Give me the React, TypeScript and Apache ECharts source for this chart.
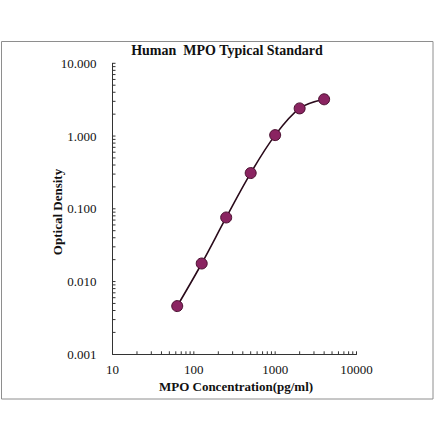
import React, { useEffect, useRef } from "react";
import * as echarts from "echarts";

const concentrations = [62.5, 125, 250, 500, 1000, 2000, 4000];
const opticalDensity = [0.0046, 0.0177, 0.076, 0.31, 1.03, 2.4, 3.2];
const xMinorTicks = [20, 30, 40, 50, 60, 70, 80, 90, 100, 200, 300, 400, 500, 600, 700, 800, 900, 1000, 2000, 3000, 4000, 5000, 6000, 7000, 8000, 9000, 10000];
const yMinorTicks = [
  0.002, 0.003, 0.004, 0.005, 0.006, 0.007, 0.008, 0.009, 0.01,
  0.02, 0.03, 0.04, 0.05, 0.06, 0.07, 0.08, 0.09, 0.1,
  0.2, 0.3, 0.4, 0.5, 0.6, 0.7, 0.8, 0.9, 1,
  2, 3, 4, 5, 6, 7, 8, 9, 10,
];
const titleText = "Human  MPO Typical Standard";
const xTitle = "MPO Concentration(pg/ml)";
const yTitle = "Optical Density";

const SERIF = "'Liberation Serif', 'Times New Roman', serif";

export default function App() {
  const ref = useRef<HTMLDivElement>(null);
  useEffect(() => {
    if (!ref.current) return;
    const chart = echarts.init(ref.current, undefined, { renderer: "svg" });
    chart.setOption({
      animation: false,
      backgroundColor: "#ffffff",
      grid: { left: 112.5, right: 83.5, top: 63.3, bottom: 86.7 },
      xAxis: {
        type: "log",
        logBase: 10,
        min: 10,
        max: 10000,
        axisLine: { show: true, lineStyle: { color: "#333", width: 1 } },
        axisTick: { show: false },
        splitLine: { show: false },
        axisLabel: {
          color: "#111",
          fontFamily: SERIF,
          fontSize: 13,
          margin: 9,
          formatter: (v: number) => String(Math.round(v)),
        },
      },
      yAxis: {
        type: "log",
        logBase: 10,
        min: 0.001,
        max: 10,
        axisLine: { show: true, lineStyle: { color: "#333", width: 1 } },
        axisTick: { show: false },
        splitLine: { show: false },
        axisLabel: {
          color: "#111",
          fontFamily: SERIF,
          fontSize: 13,
          margin: 16,
          formatter: (v: number) => v.toFixed(3),
        },
      },
      graphic: [
        {
          type: "rect",
          shape: { x: 1.5, y: 41.5, width: 431.5, height: 357.5 },
          style: { fill: "none", stroke: "#8e8e8e", lineWidth: 1 },
          silent: true,
        },
        {
          type: "text",
          x: 227,
          y: 50,
          style: {
            text: titleText,
            fill: "#111",
            font: `bold 14px ${SERIF}`,
            textAlign: "center",
            textVerticalAlign: "middle",
          },
        },
        {
          type: "text",
          x: 236,
          y: 386,
          style: {
            text: xTitle,
            fill: "#111",
            font: `bold 13px ${SERIF}`,
            textAlign: "center",
            textVerticalAlign: "middle",
          },
        },
        {
          type: "text",
          x: 57,
          y: 212,
          rotation: Math.PI / 2,
          style: {
            text: yTitle,
            fill: "#111",
            font: `bold 13px ${SERIF}`,
            textAlign: "center",
            textVerticalAlign: "middle",
          },
        },
      ],
      series: [
        {
          type: "custom",
          clip: false,
          silent: true,
          data: xMinorTicks.map((x) => [x, 0.001]),
          renderItem: (params: any, api: any) => {
            const p = api.coord([api.value(0), api.value(1)]);
            return {
              type: "line",
              shape: { x1: p[0], y1: p[1], x2: p[0], y2: p[1] - 3 },
              style: { stroke: "#333", lineWidth: 1 },
            };
          },
        },
        {
          type: "custom",
          clip: false,
          silent: true,
          data: yMinorTicks.map((y) => [10, y]),
          renderItem: (params: any, api: any) => {
            const p = api.coord([api.value(0), api.value(1)]);
            return {
              type: "line",
              shape: { x1: p[0], y1: p[1], x2: p[0] + 3, y2: p[1] },
              style: { stroke: "#333", lineWidth: 1 },
            };
          },
        },
        {
          type: "line",
          data: concentrations.map((c, i) => [c, opticalDensity[i]]),
          smooth: 0.35,
          symbol: "circle",
          symbolSize: 11,
          lineStyle: { color: "#2a0b1b", width: 1.6 },
          itemStyle: { color: "#8a2461", borderColor: "#4a1030", borderWidth: 1 },
        },
      ],
    });
    return () => chart.dispose();
  }, []);
  return (
    <div
      ref={ref}
      style={{ position: "fixed", left: 0, top: 0, width: 440, height: 441, background: "#fff" }}
    />
  );
}
